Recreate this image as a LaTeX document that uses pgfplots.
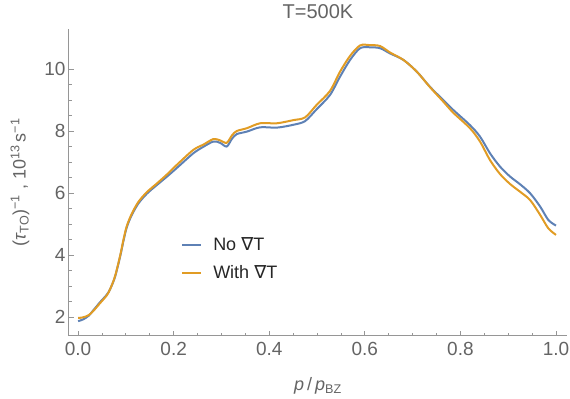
\documentclass[border=0pt]{standalone}
\usepackage{fontspec}
\setmainfont{Liberation Sans}
\newfontfamily\symfont{DejaVu Sans}
\usepackage{pgfplots}
\pgfplotsset{compat=1.18}
\definecolor{mblue}{HTML}{5E81B5}
\definecolor{morange}{HTML}{E19C24}
\definecolor{axgray}{RGB}{150,150,150}
\definecolor{txtgray}{RGB}{100,100,100}
\newcommand{\nab}{{\symfont ∇}}
\begin{document}
\begin{tikzpicture}
\begin{axis}[
  scale only axis,
  width=498pt, height=307pt,
  xmin=-0.019, xmax=1.023, ymin=1.39, ymax=11.29,
  axis x line=bottom, axis y line=left,
  axis line style={axgray, line width=1pt, -},
  xtick={0,0.2,0.4,0.6,0.8,1.0},
  ytick={2,4,6,8,10},
  minor x tick num=3, minor y tick num=3,
  tick align=inside,
  major tick length=5pt, minor tick length=3pt,
  tick style={axgray, line width=0.8pt},
  /pgf/number format/assume math mode=true,
  xticklabel style={/pgf/number format/fixed, /pgf/number format/fixed zerofill, /pgf/number format/precision=1, yshift=-3pt},
  ticklabel style={font=\fontsize{19}{22}\selectfont, text=txtgray},
  every axis title shift=0pt,
  title={T=500K},
  title style={at={(axis description cs:0.5,1)}, anchor=center, yshift=17pt, inner sep=0pt, font=\fontsize{20}{22}\selectfont, text=txtgray},
  xlabel={\textit{p}\,/\,\textit{p}\textsubscript{BZ}},
  xlabel style={at={(axis description cs:0.5,0)}, anchor=center, yshift=-50pt, inner sep=0pt, font=\fontsize{18}{20}\selectfont, text=txtgray},
  ylabel={(\textit{τ}\textsubscript{TO})\textsuperscript{−1} , 10\textsuperscript{13}\,s\textsuperscript{−1}},
  ylabel style={at={(axis description cs:0,0.5)}, anchor=center, yshift=49pt, inner sep=0pt, font=\fontsize{18}{20}\selectfont, text=txtgray},
  legend style={at={(rel axis cs:0.225,0.251)}, anchor=west, draw=none, fill=none, inner sep=0pt, row sep=14pt, font=\fontsize{18}{20}\selectfont, text=black!85, nodes={inner sep=0pt}},
  legend cell align=left,
  legend image code/.code={\draw[#1] (0pt,0pt) -- (19pt,0pt); \path (30pt,0pt);},
  clip=false,
]
\addplot[mblue, line width=2pt, smooth] coordinates {
(0.000,1.87) (0.010,1.92) (0.022,2.04) (0.032,2.22) (0.046,2.48) (0.060,2.72)
(0.067,2.90) (0.077,3.28) (0.088,3.95) (0.095,4.46) (0.102,4.90) (0.112,5.28)
(0.126,5.66) (0.144,5.98) (0.165,6.26) (0.186,6.53) (0.206,6.80) (0.241,7.28)
(0.262,7.49) (0.283,7.66) (0.297,7.62) (0.311,7.50) (0.322,7.75) (0.332,7.90)
(0.353,7.98) (0.381,8.12) (0.416,8.11) (0.450,8.20) (0.475,8.32) (0.499,8.70)
(0.527,9.16) (0.548,9.75) (0.569,10.29) (0.590,10.67) (0.611,10.70) (0.632,10.67)
(0.653,10.50) (0.681,10.29) (0.709,9.91) (0.736,9.43) (0.764,9.00) (0.785,8.68)
(0.820,8.19) (0.841,7.82) (0.862,7.28) (0.883,6.85) (0.904,6.53) (0.925,6.28)
(0.946,5.99) (0.967,5.56) (0.984,5.13) (1.000,4.95)
};
\addlegendentry{No \nab T}
\addplot[morange, line width=2pt, smooth] coordinates {
(0.000,1.97) (0.010,1.99) (0.022,2.06) (0.032,2.20) (0.046,2.45) (0.060,2.70)
(0.067,2.90) (0.077,3.30) (0.088,3.98) (0.095,4.50) (0.102,4.94) (0.112,5.32)
(0.126,5.71) (0.144,6.03) (0.165,6.31) (0.186,6.60) (0.206,6.90) (0.241,7.39)
(0.262,7.56) (0.283,7.74) (0.297,7.70) (0.311,7.62) (0.322,7.86) (0.332,8.00)
(0.353,8.09) (0.381,8.25) (0.416,8.25) (0.450,8.35) (0.475,8.44) (0.499,8.84)
(0.527,9.29) (0.548,9.91) (0.569,10.42) (0.590,10.76) (0.611,10.77) (0.632,10.74)
(0.653,10.53) (0.681,10.29) (0.709,9.91) (0.736,9.42) (0.764,8.95) (0.785,8.59)
(0.820,8.09) (0.841,7.66) (0.862,7.06) (0.883,6.61) (0.904,6.29) (0.925,6.04)
(0.946,5.77) (0.967,5.29) (0.984,4.86) (1.000,4.65)
};
\addlegendentry{With \nab T}
\end{axis}
\pgfresetboundingbox
\path ([shift={(-69pt,-63pt)}]current axis.south west) rectangle ([shift={(3pt,29pt)}]current axis.north east);
\end{tikzpicture}
\end{document}
